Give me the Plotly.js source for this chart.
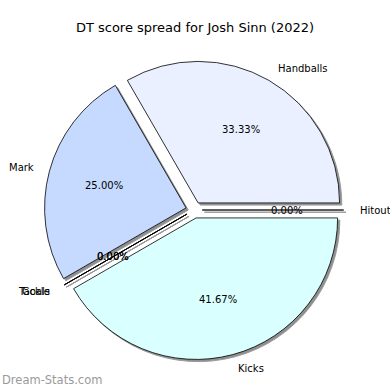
<!DOCTYPE html>
<html><head><meta charset="utf-8">
<script src="https://cdn.plot.ly/plotly-3.0.1.min.js"></script>
<style>html,body{margin:0;padding:0;background:#fff;}#chart{width:390px;height:390px;}</style>
</head><body><div id="chart"></div>
<script>
const titleText = 'DT score spread for Josh Sinn (2022)';
const labels = ['Handballs', 'Mark', 'Tackle', 'Goals', 'Kicks', 'Hitout'];
const values = [4, 3, 0, 0, 5, 0];
const colors = ['#EAF0FF', '#C6D9FF', '#D9E5FF', '#D9E5FF', '#D9FFFF', '#EAF0FF'];
const pulls = [0.058, 0.058, 0.058, 0.058, 0.058, 0.058];

const W = 390, H = 390;
const cx = 194, cy = 210, R = 141.5;
const maxPull = Math.max(...pulls);
const half = R * (1 + maxPull);
function dom(ox, oy) {
  return {x: [(cx + ox - half) / W, (cx + ox + half) / W],
          y: [1 - (cy + oy + half) / H, 1 - (cy + oy - half) / H]};
}
const total = values.reduce((a, b) => a + b, 0);
// first slice starts at 3 o'clock and the slices run counterclockwise
const rot = 90 - values[0] / total * 360;

const shadow = {
  type: 'pie', values: values, labels: labels, sort: false,
  direction: 'counterclockwise', rotation: rot, pull: pulls,
  marker: {colors: labels.map(() => '#8f8f8f'), line: {color: '#9a9a9a', width: 1}},
  textinfo: 'none', hoverinfo: 'skip', showlegend: false, domain: dom(2.2, 2.2)
};
const pie = {
  type: 'pie', values: values, labels: labels, sort: false,
  direction: 'counterclockwise', rotation: rot, pull: pulls,
  marker: {colors: colors, line: {color: '#000000', width: 0.8}},
  textinfo: 'none', showlegend: false, domain: dom(0, 0)
};

const annotations = [];
let cum = 0;
values.forEach((v, i) => {
  const mid = (cum + v / 2) / total * 2 * Math.PI;
  cum += v;
  const d = pulls[i] * R;
  const ex = cx + d * Math.cos(mid), ey = cy - d * Math.sin(mid);
  const c = Math.cos(mid), s = Math.sin(mid);
  const lx = ex + 1.1 * R * c, ly = ey - 1.1 * R * s;
  const px = ex + 0.6 * R * c, py = ey - 0.6 * R * s;
  annotations.push({x: lx / W, y: 1 - ly / H, xref: 'paper', yref: 'paper',
    text: labels[i], showarrow: false, xanchor: c >= 0 ? 'left' : 'right', yanchor: 'middle',
    font: {family: 'DejaVu Sans', size: 10, color: '#000'}});
  annotations.push({x: px / W, y: 1 - py / H, xref: 'paper', yref: 'paper',
    text: (v / total * 100).toFixed(2) + '%', showarrow: false, xanchor: 'center', yanchor: 'middle',
    font: {family: 'DejaVu Sans', size: 10, color: '#000'}});
});
annotations.push({x: 0, y: 1 - 380 / H, xref: 'paper', yref: 'paper', xanchor: 'left', yanchor: 'middle',
  text: 'Dream-Stats.com', showarrow: false,
  font: {family: 'DejaVu Sans', size: 11.5, color: '#9a9a9a'}});

const layout = {
  width: W, height: H, margin: {l: 0, r: 0, t: 0, b: 0},
  paper_bgcolor: '#fff', plot_bgcolor: '#fff',
  title: {text: titleText, x: 0.5, xanchor: 'center', y: 1 - 27 / H, yanchor: 'middle',
    font: {family: 'DejaVu Sans', size: 13, color: '#000'}},
  annotations: annotations, showlegend: false
};
Plotly.newPlot('chart', [shadow, pie], layout, {staticPlot: true});
</script></body></html>
